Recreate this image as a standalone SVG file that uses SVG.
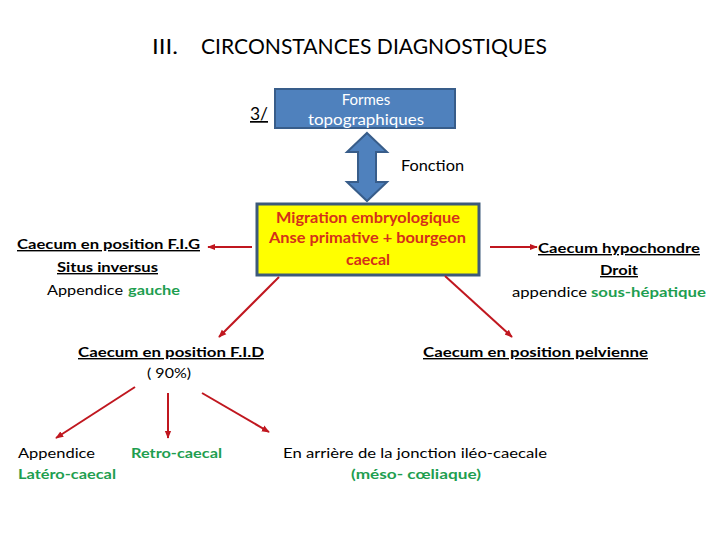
<svg xmlns="http://www.w3.org/2000/svg" width="720" height="540" viewBox="0 0 720 540">
<defs>
<marker id="ah" viewBox="0 0 10 10" refX="9" refY="5" markerWidth="4" markerHeight="4" orient="auto" markerUnits="strokeWidth">
<path d="M0,1 L10,5 L0,9 Z" fill="#c0171f"/>
</marker>
<style>
text{font-family:Lato,"Open Sans","Liberation Sans",sans-serif;fill:#000;}
.b{font-weight:bold;}
.u{text-decoration:underline;}
.g{fill:#1e9e50;font-weight:bold;}
.r{fill:#d4301a;font-weight:bold;}
.w{fill:#fff;}
.c{text-anchor:middle;}
.conn line{stroke:#c0171f;stroke-width:2;marker-end:url(#ah);}
</style>
</defs>
<rect width="720" height="540" fill="#fff"/>
<g id="title">
<text x="152" y="54" font-size="22" textLength="26" lengthAdjust="spacingAndGlyphs">III.</text>
<text x="201" y="54" font-size="22" textLength="346" lengthAdjust="spacingAndGlyphs">CIRCONSTANCES DIAGNOSTIQUES</text>
</g>
<g id="num">
<text x="250" y="120" font-size="17" class="u" textLength="18" lengthAdjust="spacingAndGlyphs">3/</text>
</g>
<g id="formes">
<rect x="275" y="89" width="180" height="39" fill="#4f81bd" stroke="#385d8a" stroke-width="2"/>
<text x="366" y="105" font-size="15" class="w c">Formes</text>
<text x="308" y="125" font-size="15" class="w" textLength="116" lengthAdjust="spacingAndGlyphs">topographiques</text>
</g>
<g id="fonction-arrow">
<path d="M367,133 L387,152 L376,152 L376,182 L387,182 L367,201 L347,182 L358,182 L358,152 L347,152 Z" fill="#4f81bd" stroke="#385d8a" stroke-width="2"/>
<text x="401" y="171" font-size="15" textLength="63" lengthAdjust="spacingAndGlyphs">Fonction</text>
</g>
<g id="migration">
<rect x="257" y="204" width="222" height="71" fill="#ffff00" stroke="#3d5a7a" stroke-width="3"/>
<text x="276" y="223" font-size="15" class="r" textLength="184" lengthAdjust="spacingAndGlyphs">Migration embryologique</text>
<text x="269" y="243" font-size="15" class="r" textLength="197" lengthAdjust="spacingAndGlyphs">Anse primative + bourgeon</text>
<text x="346" y="265" font-size="15" class="r" textLength="44" lengthAdjust="spacingAndGlyphs">caecal</text>
</g>
<g id="fig">
<text x="17" y="249" font-size="14" class="b u" textLength="183" lengthAdjust="spacingAndGlyphs">Caecum en position F.I.G</text>
<text x="57" y="272" font-size="14" class="b u" textLength="101" lengthAdjust="spacingAndGlyphs">Situs inversus</text>
<text x="47" y="295" font-size="14" textLength="76" lengthAdjust="spacingAndGlyphs">Appendice</text>
<text x="128" y="295" font-size="14" class="g" textLength="52" lengthAdjust="spacingAndGlyphs">gauche</text>
</g>
<g id="hypochondre">
<text x="538" y="253" font-size="14" class="b u" textLength="162" lengthAdjust="spacingAndGlyphs">Caecum hypochondre</text>
<text x="600" y="275" font-size="14" class="b u" textLength="38" lengthAdjust="spacingAndGlyphs">Droit</text>
<text x="512" y="297" font-size="14" textLength="75" lengthAdjust="spacingAndGlyphs">appendice</text>
<text x="591" y="297" font-size="14" class="g" textLength="115" lengthAdjust="spacingAndGlyphs">sous-hépatique</text>
</g>
<g id="fid">
<text x="78" y="357" font-size="14" class="b u" textLength="186" lengthAdjust="spacingAndGlyphs">Caecum en position F.I.D</text>
<text x="147" y="378" font-size="14" textLength="44" lengthAdjust="spacingAndGlyphs">( 90%)</text>
</g>
<g id="pelvienne">
<text x="423" y="357" font-size="14" class="b u" textLength="225" lengthAdjust="spacingAndGlyphs">Caecum en position pelvienne</text>
</g>
<g id="latero">
<text x="18" y="458" font-size="14" textLength="77" lengthAdjust="spacingAndGlyphs">Appendice</text>
<text x="18" y="479" font-size="14" class="g" textLength="98" lengthAdjust="spacingAndGlyphs">Latéro-caecal</text>
</g>
<g id="retro">
<text x="131" y="458" font-size="14" class="g" textLength="91" lengthAdjust="spacingAndGlyphs">Retro-caecal</text>
</g>
<g id="meso">
<text x="283" y="458" font-size="14" textLength="264" lengthAdjust="spacingAndGlyphs">En arrière de la jonction iléo-caecale</text>
<text x="351" y="479" font-size="14" class="g" textLength="130" lengthAdjust="spacingAndGlyphs">(méso- cœliaque)</text>
</g>
<g class="conn" id="connectors">
<line x1="252" y1="247" x2="208" y2="247"/>
<line x1="490" y1="247" x2="537" y2="247"/>
<line x1="279" y1="277" x2="219" y2="337"/>
<line x1="445" y1="276" x2="512" y2="337"/>
<line x1="135" y1="387" x2="56" y2="438"/>
<line x1="168" y1="393" x2="168" y2="438"/>
<line x1="202" y1="393" x2="269" y2="432"/>
</g>
</svg>
